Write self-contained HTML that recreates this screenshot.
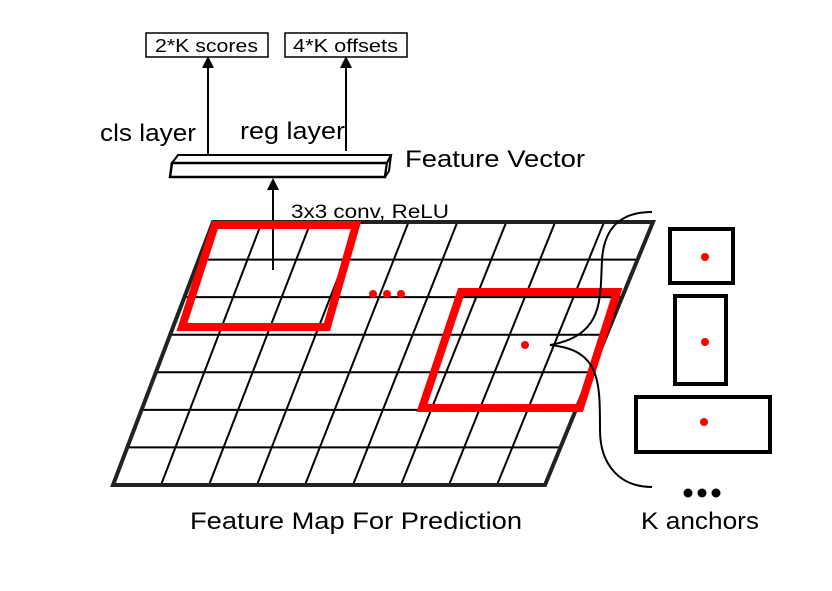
<!DOCTYPE html>
<html><head><style>html,body{margin:0;padding:0;background:#fff}svg{display:block}text{font-family:"Liberation Sans",sans-serif;fill:#000}</style></head>
<body>
<svg width="832" height="591" viewBox="0 0 832 591" xmlns="http://www.w3.org/2000/svg">
<defs><marker id="a" markerWidth="6" markerHeight="6" refX="3" refY="3" orient="auto"><path d="M0,0 L6,3 L0,6 z" fill="#000"/></marker></defs>
<rect x="146" y="33" width="122" height="24" fill="#fff" stroke="#000" stroke-width="1.5"/>
<text x="155" y="52" font-size="18" textLength="103" lengthAdjust="spacingAndGlyphs">2*K scores</text>
<rect x="285" y="33" width="122" height="24" fill="#fff" stroke="#000" stroke-width="1.5"/>
<text x="293" y="52" font-size="18" textLength="105" lengthAdjust="spacingAndGlyphs">4*K offsets</text>
<line x1="208" y1="154" x2="208" y2="62" stroke="#000" stroke-width="2" marker-end="url(#a)"/>
<line x1="346" y1="151" x2="346" y2="62" stroke="#000" stroke-width="2" marker-end="url(#a)"/>
<text x="100" y="141" font-size="24" textLength="96" lengthAdjust="spacingAndGlyphs">cls layer</text>
<text x="240" y="139" font-size="24" textLength="105" lengthAdjust="spacingAndGlyphs">reg layer</text>
<polygon points="172,163 178,155 391,155 387,163" fill="#fff" stroke="#000" stroke-width="2"/>
<polygon points="172,163 387,163 385,177 170,177" fill="#fff" stroke="#000" stroke-width="2.5"/>
<polygon points="387,163 391,155 389,171 385,177" fill="#fff" stroke="#000" stroke-width="2"/>
<text x="405" y="167" font-size="24" textLength="180" lengthAdjust="spacingAndGlyphs">Feature Vector</text>
<line x1="273" y1="270" x2="273" y2="184" stroke="#000" stroke-width="2" marker-end="url(#a)"/>
<text x="291" y="218" font-size="19" textLength="158" lengthAdjust="spacingAndGlyphs">3x3 conv, ReLU</text>
<g stroke="#000" stroke-width="2">
<line x1="261.9" y1="222" x2="161" y2="485"/><line x1="310.8" y1="222" x2="209" y2="485"/>
<line x1="359.7" y1="222" x2="257" y2="485"/><line x1="408.6" y1="222" x2="305" y2="485"/>
<line x1="457.4" y1="222" x2="353" y2="485"/><line x1="506.3" y1="222" x2="401" y2="485"/>
<line x1="555.2" y1="222" x2="449" y2="485"/><line x1="604.1" y1="222" x2="497" y2="485"/>
<line x1="198.7" y1="259.6" x2="637.6" y2="259.6"/><line x1="184.4" y1="297.1" x2="622.1" y2="297.1"/>
<line x1="170.1" y1="334.7" x2="606.7" y2="334.7"/><line x1="155.9" y1="372.3" x2="591.3" y2="372.3"/>
<line x1="141.6" y1="409.9" x2="575.9" y2="409.9"/><line x1="127.3" y1="447.4" x2="560.4" y2="447.4"/>
</g>
<polygon points="213,222 653,222 545,485 113,485" fill="none" stroke="#222" stroke-width="4"/>
<line x1="273" y1="270" x2="273" y2="222" stroke="#000" stroke-width="2"/>
<polygon points="215,225 356,225 327,327 182,327" fill="none" stroke="#f00" stroke-width="8"/>
<polygon points="461,292 617,292 580,408 422,408" fill="none" stroke="#f00" stroke-width="8"/>
<circle cx="373" cy="294" r="4" fill="#f00"/><circle cx="387" cy="294" r="4" fill="#f00"/><circle cx="401" cy="294" r="4" fill="#f00"/>
<circle cx="525" cy="345" r="4" fill="#f00"/>
<path d="M652,212 C620,212 604,228 602,260 C600,300 604,335 550,345 C600,350 600,380 600,430 C600,465 620,487 652,487" fill="none" stroke="#000" stroke-width="2"/>
<rect x="670" y="229" width="63" height="54" fill="#fff" stroke="#000" stroke-width="4"/>
<rect x="675" y="296" width="51" height="88" fill="#fff" stroke="#000" stroke-width="4"/>
<rect x="636" y="397" width="134" height="55" fill="#fff" stroke="#000" stroke-width="4"/>
<circle cx="705" cy="257" r="4" fill="#f00"/><circle cx="705" cy="342" r="4" fill="#f00"/><circle cx="704" cy="422" r="4" fill="#f00"/>
<circle cx="688" cy="493" r="4.5" fill="#000"/><circle cx="702" cy="493" r="4.5" fill="#000"/><circle cx="716" cy="493" r="4.5" fill="#000"/>
<text x="641" y="529" font-size="24" textLength="118" lengthAdjust="spacingAndGlyphs">K anchors</text>
<text x="190" y="529" font-size="24" textLength="332" lengthAdjust="spacingAndGlyphs">Feature Map For Prediction</text>
</svg>
</body></html>
